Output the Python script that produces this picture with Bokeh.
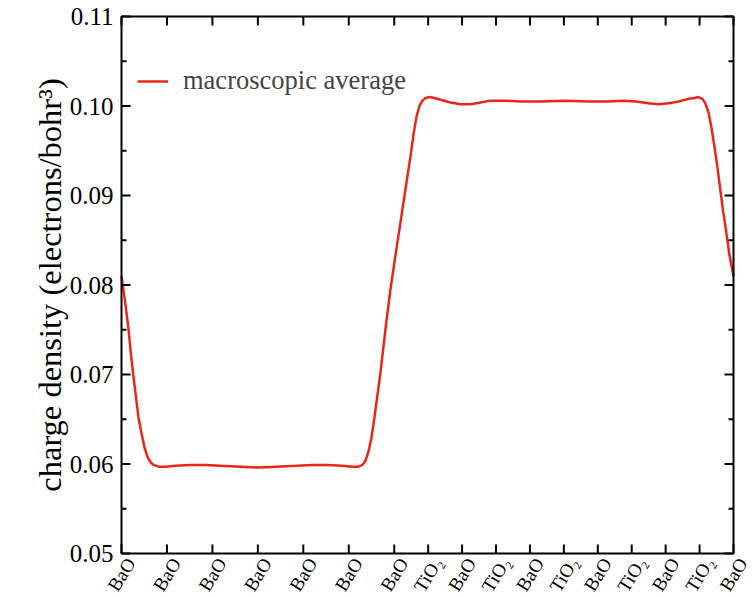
import math

from bokeh.plotting import figure
from bokeh.models import Range1d, Legend, LegendItem
from bokeh.core.properties import value
from bokeh.embed import file_html
from bokeh.resources import INLINE

# Planar-averaged (macroscopic) charge density across the BaO / BaTiO3 stack
position = [0.00, 0.24, 0.43, 0.61, 0.85, 1.03, 1.24, 1.40, 1.58, 1.76,
            1.94, 2.25, 2.67, 3.28, 4.19, 5.10, 6.01, 7.23, 8.32, 9.41,
            10.63, 11.60, 12.51, 13.42, 14.03, 14.39, 14.63, 14.82, 15.00, 15.18,
            15.36, 15.54, 15.73, 16.03, 16.33, 16.64, 16.94, 17.24, 17.55, 17.73,
            17.91, 18.09, 18.28, 18.46, 18.70, 19.00, 19.37, 19.98, 20.58, 21.19,
            21.80, 22.40, 23.31, 24.23, 25.44, 26.90, 28.35, 29.57, 30.48, 31.21,
            32.00, 32.60, 33.21, 33.82, 34.43, 34.79, 35.03, 35.27, 35.45, 35.64,
            35.82, 36.00, 36.18, 36.37, 36.55, 36.73, 36.91, 37.16]
density = [0.0810, 0.0778, 0.0750, 0.0716, 0.0679, 0.0652, 0.0632, 0.0618, 0.0608, 0.0602,
           0.0599, 0.0597, 0.0597, 0.0598, 0.0599, 0.0599, 0.0598, 0.0597, 0.0596, 0.0597,
           0.0598, 0.0599, 0.0599, 0.0598, 0.0597, 0.0597, 0.0599, 0.0604, 0.0614, 0.0630,
           0.0652, 0.0677, 0.0703, 0.0751, 0.0795, 0.0834, 0.0870, 0.0907, 0.0944, 0.0968,
           0.0988, 0.1000, 0.1006, 0.1009, 0.1010, 0.1009, 0.1007, 0.1004, 0.1002, 0.1002,
           0.1004, 0.1006, 0.1006, 0.1005, 0.1005, 0.1006, 0.1005, 0.1005, 0.1006, 0.1005,
           0.1003, 0.1002, 0.1003, 0.1005, 0.1008, 0.1009, 0.1010, 0.1008, 0.1003, 0.0993,
           0.0976, 0.0955, 0.0932, 0.0905, 0.0880, 0.0858, 0.0834, 0.0810]

# Atomic planes along the stacking direction
layer_positions = [0.00, 2.76, 5.52, 8.28, 11.04, 13.80, 16.56, 18.62, 20.68,
                   22.74, 24.80, 26.86, 28.92, 30.98, 33.04, 35.10, 37.16]
layer_names = ["BaO", "BaO", "BaO", "BaO", "BaO", "BaO", "BaO", "TiO₂", "BaO",
               "TiO₂", "BaO", "TiO₂", "BaO", "TiO₂", "BaO", "TiO₂", "BaO"]

density_ticks = [0.05, 0.06, 0.07, 0.08, 0.09, 0.10, 0.11]
density_labels = ["0.05", "0.06", "0.07", "0.08", "0.09", "0.10", "0.11"]
density_minor = [0.055, 0.065, 0.075, 0.085, 0.095, 0.105]

y_title = "charge density (electrons/bohr³)"
series_name = "macroscopic average"

FONT = "Liberation Serif"
RED = "#e8261a"

# Canvas and data-box geometry in pixels; the whole canvas is the plotting
# frame so that the slanted plane names beneath the box are not clipped.
W, H = 754, 597
LEFT, RIGHT, TOP, BOTTOM = 121, 21, 16, 44
BOX_W = W - LEFT - RIGHT
BOX_H = H - TOP - BOTTOM

x0, x1 = position[0], position[-1]
y0, y1 = density_ticks[0], density_ticks[-1]
x_px = (x1 - x0) / BOX_W
y_px = (y1 - y0) / BOX_H
MAJOR, MINOR = 9, 5

p = figure(width=W, height=H, output_backend="svg", toolbar_location=None,
           x_range=Range1d(x0 - LEFT * x_px, x1 + RIGHT * x_px),
           y_range=Range1d(y0 - BOTTOM * y_px, y1 + TOP * y_px),
           min_border=0, x_axis_location=None, y_axis_location=None)
p.grid.visible = False
p.outline_line_color = None
p.background_fill_color = "white"

line = p.line(position, density, line_color=RED, line_width=2.5)

# frame box
p.quad(left=[x0], right=[x1], bottom=[y0], top=[y1], fill_color=None,
       line_color="black", line_width=2)

# inward ticks on all four sides
tick_style = dict(line_color="black", line_width=2, line_cap="butt")
n_x, n_y, n_m = len(layer_positions), len(density_ticks), len(density_minor)
p.segment(x0=layer_positions, y0=[y0] * n_x, x1=layer_positions,
          y1=[y0 + MAJOR * y_px] * n_x, **tick_style)
p.segment(x0=layer_positions, y0=[y1] * n_x, x1=layer_positions,
          y1=[y1 - MAJOR * y_px] * n_x, **tick_style)
for edge, sign in ((x0, 1), (x1, -1)):
    p.segment(x0=[edge] * n_y, y0=density_ticks,
              x1=[edge + sign * MAJOR * x_px] * n_y, y1=density_ticks, **tick_style)
    p.segment(x0=[edge] * n_m, y0=density_minor,
              x1=[edge + sign * MINOR * x_px] * n_m, y1=density_minor, **tick_style)

# y tick labels and axis title
p.text(x=[x0 - 8 * x_px] * n_y, y=density_ticks, text=density_labels,
       text_align="right", text_baseline="middle", text_font=value(FONT),
       text_font_size="25px", text_color="black")
p.text(x=[x0 - 72 * x_px], y=[(y0 + y1) / 2], text=[y_title], angle=math.pi / 2,
       text_align="center", text_baseline="middle", text_font=value(FONT),
       text_font_size="32.5px", text_color="black")

# slanted plane names centred under each bottom tick
p.text(x=layer_positions, y=[y0 - 21 * y_px] * n_x, text=layer_names,
       angle=math.radians(58), text_align="center", text_baseline="middle",
       text_font=value(FONT), text_font_size="19px", text_color="black")

legend = Legend(items=[LegendItem(label=series_name, renderers=[line])],
                location=(LEFT + 16, BOTTOM + 457), border_line_color=None,
                background_fill_alpha=0, padding=0, margin=0, spacing=0,
                glyph_width=31, glyph_height=30, label_height=30, label_standoff=15,
                label_text_font=FONT, label_text_font_size="26.5px")
p.add_layout(legend)

open("out.html", "w").write(file_html(p, INLINE))
